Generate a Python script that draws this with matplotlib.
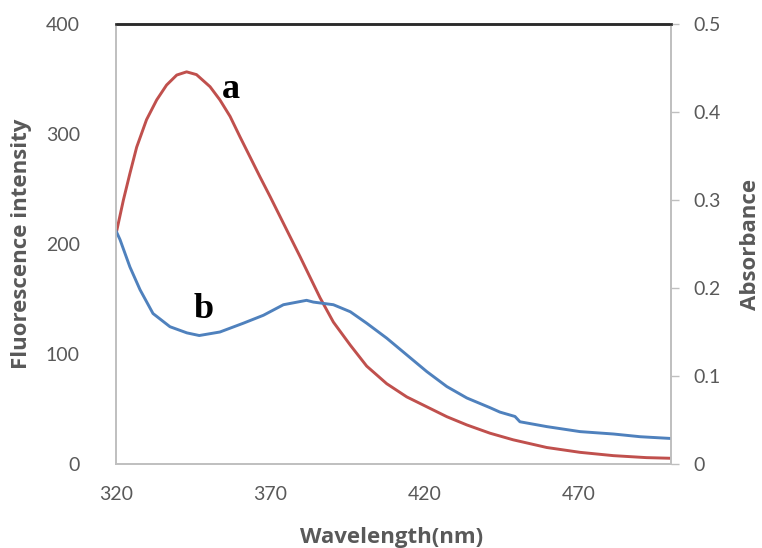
import matplotlib
matplotlib.use("Agg")
import matplotlib.pyplot as plt

# curve a: fluorescence intensity (left axis)
wl_a = [320, 322.4, 324.5, 326.7, 329.9, 333.2, 336.4, 339.7, 342.9, 346.1,
        350.5, 353.7, 357, 360.2, 363.5, 366.7, 370, 373.2, 376.4, 379.7,
        382.9, 386.2, 390.5, 396, 401.3, 407.8, 414.3, 420.8, 427.3, 433.8,
        441.3, 448.8, 459.7, 470.5, 481.3, 492, 500]
fluor_a = [209, 240, 264, 288, 313, 331, 344.5, 353.6, 356.5, 354,
           343, 331, 316, 297.5, 279, 261, 243, 225, 207, 188.5,
           170, 151, 129, 108, 89, 73, 61, 52, 43, 35.5,
           28, 22, 15, 10.6, 7.6, 5.8, 5.2]

# curve b: absorbance (right axis)
wl_b = [320, 321.3, 324.5, 327.8, 332, 337.5, 343, 347, 353.7, 361.3, 367.8,
        374.3, 381.8, 384, 390.5, 396, 401.3, 407.8, 414.3, 420.8, 427.3,
        433.8, 441.3, 444.5, 449.4, 451, 459.7, 470.5, 481.3, 490, 500]
abs_b = [0.265, 0.255, 0.224, 0.198, 0.171, 0.156, 0.149, 0.146, 0.150, 0.160,
         0.169, 0.181, 0.186, 0.184, 0.181, 0.173, 0.160, 0.143, 0.124, 0.105,
         0.088, 0.075, 0.064, 0.059, 0.054, 0.048, 0.0425, 0.0368, 0.0341,
         0.031, 0.029]

x_ticks = [320, 370, 420, 470]
left_ticks = [0, 100, 200, 300, 400]
right_ticks = [0, 0.1, 0.2, 0.3, 0.4, 0.5]
right_labels = ["0", "0.1", "0.2", "0.3", "0.4", "0.5"]

RED = "#c0504d"
BLUE = "#4f81bd"
GRID_GRAY = "#bfbfbf"
TEXT_GRAY = "#595959"

plt.rcParams["font.family"] = ["Lato", "DejaVu Sans"]

fig = plt.figure(figsize=(7.62, 5.48), dpi=100)
ax = fig.add_axes([116 / 762, 1 - 464 / 548, 555 / 762, 440 / 548])
ax2 = ax.twinx()

ax.plot(wl_a, fluor_a, color=RED, lw=2.1, solid_joinstyle="round")
ax2.plot(wl_b, abs_b, color=BLUE, lw=2.1, solid_joinstyle="round")

ax.set_xlim(320, 500)
ax.set_ylim(0, 400)
ax2.set_ylim(0, 0.5)

ax.set_xticks(x_ticks)
ax.set_yticks(left_ticks)
ax2.set_yticks(right_ticks)
ax2.set_yticklabels(right_labels)

ax.tick_params(axis="x", length=0, pad=16, labelsize=14, labelcolor=TEXT_GRAY)
ax.tick_params(axis="y", length=0, pad=26, labelsize=14, labelcolor=TEXT_GRAY)
ax2.tick_params(axis="y", length=6, width=1, color=GRID_GRAY, pad=10,
                labelsize=14, labelcolor=TEXT_GRAY)

for a in (ax, ax2):
    for side in ("left", "right", "bottom"):
        a.spines[side].set_color(GRID_GRAY)
        a.spines[side].set_linewidth(1.2)
    a.spines["top"].set_color("#2b2b2b")
    a.spines["top"].set_linewidth(1.8)

title_font = dict(fontsize=16, fontweight="bold", color=TEXT_GRAY, family="Open Sans",
                  ha="center", va="center")
fig.text(392 / 762, 1 - 537 / 548, "Wavelength(nm)", **title_font)
fig.text(22 / 762, 1 - 244 / 548, "Fluorescence intensity", rotation=90, **title_font)
fig.text(750 / 762, 1 - 244 / 548, "Absorbance", rotation=90, **title_font)

ax.text(357.4, 332.5, "a", fontsize=26, fontweight="bold", family="Liberation Serif",
        ha="center", va="baseline", color="black")
ax.text(348.5, 132.5, "b", fontsize=26, fontweight="bold", family="Liberation Serif",
        ha="center", va="baseline", color="black")

fig.savefig("out.png", dpi=100)
